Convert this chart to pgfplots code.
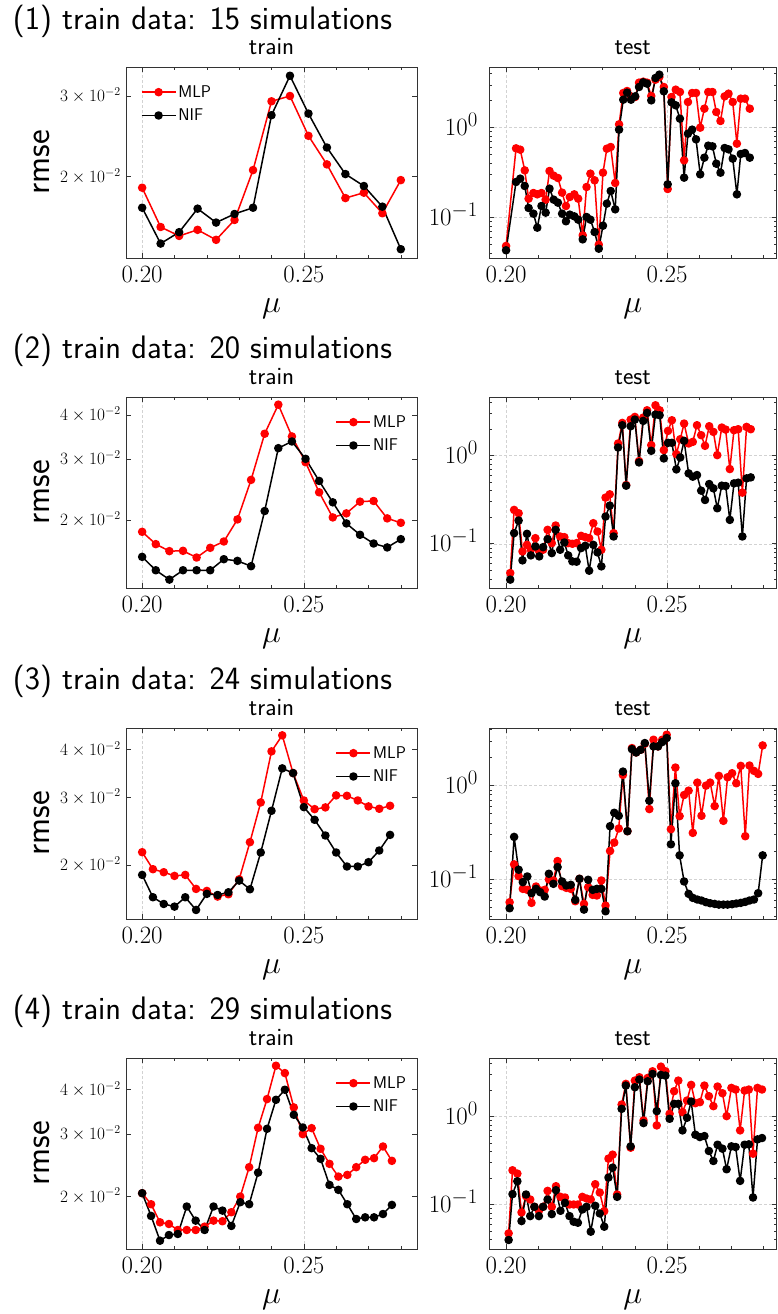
\RequirePackage{fix-cm}
\documentclass[border=0pt]{standalone}
\usepackage{pgfplots}
\usepackage{pgfplotstable}
\pgfplotsset{compat=1.18}

\newcommand{\fs}[1]{\fontsize{#1}{#1}\selectfont}

\pgfplotstableread{
x mlp nif
0.20000 0.01893 0.01712
0.20571 0.01554 0.01430
0.21143 0.01486 0.01514
0.21714 0.01532 0.01704
0.22286 0.01457 0.01589
0.22857 0.01610 0.01659
0.23429 0.02068 0.01712
0.24000 0.02921 0.02724
0.24571 0.03000 0.03321
0.25143 0.02456 0.02746
0.25714 0.02128 0.02316
0.26286 0.01797 0.02027
0.26857 0.01846 0.01909
0.27429 0.01665 0.01721
0.28000 0.01967 0.01390
}\trainA

\pgfplotstableread{
x mlp nif
0.20000 0.01851 0.01568
0.20421 0.01706 0.01435
0.20842 0.01629 0.01349
0.21263 0.01632 0.01435
0.21684 0.01561 0.01435
0.22105 0.01665 0.01435
0.22526 0.01736 0.01544
0.22947 0.02009 0.01527
0.23368 0.02610 0.01474
0.23789 0.03543 0.02124
0.24211 0.04295 0.03220
0.24632 0.03480 0.03366
0.25053 0.02934 0.03000
0.25474 0.02404 0.02592
0.25895 0.02036 0.02250
0.26316 0.02091 0.01957
0.26737 0.02260 0.01815
0.27158 0.02270 0.01713
0.27579 0.02023 0.01669
0.28000 0.01965 0.01763
}\trainB

\pgfplotstableread{
x mlp nif
0.20000 0.02160 0.01884
0.20333 0.01950 0.01647
0.20667 0.01915 0.01582
0.21000 0.01873 0.01557
0.21333 0.01884 0.01647
0.21667 0.01732 0.01526
0.22000 0.01711 0.01681
0.22333 0.01654 0.01670
0.22667 0.01677 0.01697
0.23000 0.01835 0.01821
0.23333 0.02294 0.01728
0.23667 0.02914 0.02156
0.24000 0.03963 0.02771
0.24333 0.04363 0.03577
0.24667 0.03477 0.03477
0.25000 0.02949 0.02833
0.25333 0.02799 0.02625
0.25667 0.02828 0.02388
0.26000 0.03040 0.02156
0.26333 0.03033 0.01982
0.26667 0.02949 0.01982
0.27000 0.02845 0.02034
0.27333 0.02805 0.02182
0.27667 0.02856 0.02397
}\trainC

\pgfplotstableread{
x mlp nif
0.20000 0.02045 0.02045
0.20276 0.01904 0.01765
0.20552 0.01693 0.01503
0.20828 0.01675 0.01559
0.21103 0.01611 0.01570
0.21379 0.01611 0.01876
0.21655 0.01611 0.01712
0.21931 0.01646 0.01611
0.22207 0.01712 0.01876
0.22483 0.01705 0.01827
0.22759 0.01808 0.01654
0.23034 0.02001 0.01929
0.23310 0.02421 0.01904
0.23586 0.03126 0.02338
0.23862 0.03766 0.03106
0.24138 0.04676 0.03749
0.24414 0.04458 0.04002
0.24690 0.03568 0.03402
0.24966 0.03000 0.03133
0.25241 0.03119 0.02739
0.25517 0.02728 0.02556
0.25793 0.02474 0.02158
0.26069 0.02278 0.02090
0.26345 0.02303 0.01904
0.26621 0.02421 0.01730
0.26897 0.02540 0.01749
0.27172 0.02567 0.01749
0.27448 0.02769 0.01787
0.27724 0.02523 0.01896
}\trainD

\pgfplotstableread{
x mlp nif
0.2000 0.0479 0.0429
0.2031 0.588 0.248
0.2044 0.568 0.270
0.2058 0.334 0.2236
0.2070 0.1615 0.1271
0.2085 0.1868 0.1099
0.2097 0.1805 0.0767
0.2110 0.1868 0.1338
0.2123 0.1574 0.1127
0.2135 0.3287 0.2088
0.2148 0.2915 0.1574
0.2161 0.2746 0.1458
0.2174 0.1884 0.1099
0.2186 0.1338 0.0903
0.2198 0.1686 0.1071
0.2212 0.1805 0.1026
0.2224 0.1615 0.0942
0.2238 0.0630 0.0568
0.2250 0.2179 0.1009
0.2262 0.3069 0.0942
0.2275 0.2586 0.0686
0.2288 0.0496 0.0447
0.2301 0.3148 0.0807
0.2313 0.583 0.1421
0.2325 0.609 0.1966
0.2339 0.2415 0.1228
0.2351 1.089 0.950
0.2364 2.436 2.052
0.2376 2.564 2.457
0.2388 2.236 2.052
0.2401 2.198 2.236
0.2413 3.177 2.841
0.2426 3.258 3.204
0.2438 3.177 3.095
0.2451 2.255 2.017
0.2464 3.430 3.580
0.2476 3.674 3.900
0.2490 2.841 2.542
0.2502 0.2070 0.2333
0.2514 2.198 1.916
0.2527 2.653 1.775
0.2540 2.499 1.260
0.2553 0.432 0.2770
0.2565 1.933 0.857
0.2578 2.436 0.950
0.2590 2.436 0.741
0.2603 1.000 0.3017
0.2616 1.629 0.4628
0.2628 2.499 0.630
0.2641 2.499 0.619
0.2653 1.495 0.3967
0.2666 1.187 0.3148
0.2679 2.236 0.5932
0.2691 2.394 0.5733
0.2704 1.933 0.4511
0.2717 0.6631 0.1805
0.2729 2.106 0.5085
0.2742 2.106 0.5219
0.2757 1.629 0.4628
}\testA

\pgfplotstableread{
x mlp nif
0.2013 0.0467 0.0393
0.2025 0.2418 0.1319
0.2039 0.2218 0.1834
0.2051 0.0819 0.0649
0.2065 0.0974 0.1297
0.2077 0.0856 0.0739
0.2091 0.1158 0.0933
0.2103 0.0819 0.0720
0.2115 0.0856 0.0917
0.2129 0.1439 0.1129
0.2142 0.1017 0.0785
0.2154 0.1610 0.1439
0.2168 0.1210 0.0856
0.2181 0.1189 0.1035
0.2193 0.1017 0.0739
0.2206 0.1000 0.0632
0.2219 0.1017 0.0627
0.2233 0.1231 0.0894
0.2246 0.1189 0.0949
0.2258 0.1158 0.0496
0.2271 0.1711 0.0974
0.2284 0.1377 0.0799
0.2296 0.0856 0.0555
0.2309 0.3332 0.2034
0.2322 0.3633 0.2706
0.2334 0.1319 0.1210
0.2348 1.366 1.231
0.2361 2.336 2.198
0.2373 0.4628 0.455
0.2387 2.547 2.142
0.2400 2.730 2.547
0.2413 0.863 0.834
0.2426 2.683 2.460
0.2438 3.245 3.029
0.2451 1.308 1.129
0.2464 3.696 2.900
0.2477 3.245 2.851
0.2490 1.149 0.925
0.2503 1.897 1.390
0.2515 2.503 1.390
0.2529 1.035 0.695
0.2541 1.528 0.949
0.2553 2.296 1.464
0.2567 1.366 0.627
0.2580 1.426 0.5745
0.2593 2.198 0.600
0.2606 1.696 0.3995
0.2618 1.285 0.3134
0.2631 2.142 0.475
0.2644 1.849 0.4244
0.2656 1.009 0.2525
0.2670 2.070 0.455
0.2682 1.964 0.451
0.2695 0.7013 0.1865
0.2708 1.931 0.4832
0.2721 1.982 0.4917
0.2734 0.3793 0.1210
0.2747 2.105 0.5503
0.2760 1.982 0.5647
}\testB

\pgfplotstableread{
x mlp nif
0.2011 0.0566 0.0488
0.2025 0.1438 0.2829
0.2039 0.1077 0.1260
0.2052 0.0787 0.0928
0.2066 0.0768 0.1068
0.2079 0.0557 0.0707
0.2093 0.0834 0.0787
0.2106 0.0755 0.0725
0.2120 0.0768 0.0651
0.2133 0.0992 0.1141
0.2147 0.0968 0.0891
0.2160 0.1561 0.1346
0.2174 0.0841 0.0944
0.2187 0.0807 0.0855
0.2201 0.0787 0.0869
0.2215 0.0580 0.0600
0.2228 0.1008 0.1008
0.2242 0.0543 0.0472
0.2255 0.0820 0.0984
0.2269 0.0679 0.0768
0.2282 0.0668 0.0787
0.2296 0.0968 0.0787
0.2309 0.0521 0.0453
0.2323 0.2000 0.3684
0.2336 0.2459 0.5126
0.2350 0.3477 0.4759
0.2363 1.302 1.414
0.2377 0.3255 0.3255
0.2391 2.520 2.459
0.2404 2.264 2.264
0.2418 2.418 2.418
0.2431 2.805 2.853
0.2445 0.5612 0.6898
0.2458 3.097 2.627
0.2472 2.627 2.627
0.2485 3.097 2.924
0.2499 3.506 3.228
0.2512 0.3420 0.2359
0.2526 1.561 1.060
0.2539 0.4719 0.1797
0.2553 0.7937 0.0944
0.2567 0.8836 0.0696
0.2580 0.3123 0.0630
0.2594 1.077 0.0605
0.2607 0.4759 0.0590
0.2621 1.000 0.0566
0.2634 1.077 0.0552
0.2648 0.6045 0.0543
0.2661 1.270 0.0534
0.2675 0.4204 0.0534
0.2688 1.229 0.0534
0.2702 1.357 0.0539
0.2715 1.060 0.0548
0.2729 1.627 0.0557
0.2743 0.2876 0.0571
0.2756 1.641 0.0590
0.2770 1.438 0.0605
0.2783 1.335 0.0707
0.2797 2.692 0.1797
}\testC

\pgfplotstableread{
x mlp nif
0.2008 0.0470 0.0395
0.2020 0.2447 0.1309
0.2035 0.2244 0.1837
0.2048 0.0812 0.0648
0.2062 0.1243 0.1298
0.2075 0.1139 0.0738
0.2088 0.0941 0.0941
0.2102 0.0848 0.0738
0.2115 0.0941 0.0941
0.2129 0.1428 0.1139
0.2142 0.0941 0.0777
0.2155 0.1613 0.1453
0.2169 0.1221 0.0848
0.2183 0.1200 0.1044
0.2197 0.1000 0.0738
0.2210 0.1000 0.0637
0.2223 0.1000 0.0620
0.2237 0.1221 0.0878
0.2250 0.1169 0.0941
0.2263 0.1139 0.0491
0.2277 0.1699 0.0966
0.2291 0.1367 0.0791
0.2305 0.0840 0.0559
0.2318 0.3318 0.2022
0.2331 0.3681 0.2624
0.2345 0.1298 0.1221
0.2359 1.367 1.221
0.2372 2.343 2.244
0.2387 0.4418 0.4575
0.2400 2.556 2.148
0.2414 2.788 2.624
0.2427 0.9010 0.8405
0.2440 2.740 2.512
0.2455 3.260 3.041
0.2468 0.7910 1.149
0.2481 3.681 2.963
0.2495 3.260 2.912
0.2508 1.072 0.9410
0.2522 1.936 1.391
0.2535 2.556 1.391
0.2548 1.120 0.6944
0.2562 1.517 0.9658
0.2575 2.283 1.479
0.2588 1.415 0.6200
0.2602 1.453 0.5834
0.2616 2.244 0.5990
0.2630 1.699 0.4051
0.2644 1.309 0.3120
0.2657 2.186 0.4777
0.2672 1.837 0.4305
0.2685 1.009 0.2512
0.2700 2.111 0.4575
0.2713 2.022 0.4497
0.2727 0.6944 0.1853
0.2741 1.969 0.4777
0.2754 2.022 0.4819
0.2767 0.3779 0.1200
0.2781 2.111 0.5490
0.2795 2.022 0.5686
}\testD

% #1 = legend placement, #2 = axis placement and limits
\newcommand{\trainaxis}[2]{%
\begin{axis}[
    scale only axis, height=191pt, width=291pt, ymode=log,
    xmin=0.195, xmax=0.285,
    tick align=inside,
    major tick length=5pt, minor tick length=3pt,
    axis line style={black!80, line width=0.8pt},
    every tick/.append style={black!80, line width=0.6pt},
    xtick={0.20,0.25}, xticklabels={$0.20$,$0.25$},
    minor xtick={0.21,0.22,0.23,0.24,0.26,0.27,0.28},
    xmajorgrids,
    major grid style={gray!35, dash pattern=on 3pt off 2pt, line width=0.5pt},
    xticklabel style={font=\fs{24.88}, inner sep=0pt, anchor=north, yshift=-8pt},
    title={train},
    title style={font=\sffamily\fs{24.88}, inner sep=0pt, at={(axis description cs:0.5,1)}, anchor=base, yshift=6.5pt},
    xlabel={$\mu$},
    xlabel style={font=\fs{32}, inner sep=0pt, at={(axis description cs:0.5,-0.285)}, anchor=base},
    ytick={0.02,0.03,0.04}, yticklabels={$2\times10^{-2}$,$3\times10^{-2}$,$4\times10^{-2}$},
    yticklabel style={font=\fs{17.28}, inner sep=0pt, anchor=base east, xshift=-5pt, yshift=-5.6pt},
    ylabel={rmse},
    ylabel style={font=\sffamily\fs{35}, inner sep=0pt, at={(axis description cs:-0.262,0.5)}, anchor=base},
    legend cell align=left,
    legend image code/.code={\draw[mark repeat=2,mark phase=2,##1] plot coordinates {(0pt,0pt) (17pt,0pt) (34pt,0pt)};},
    legend style={draw=none, fill=none, font=\sffamily\fs{17}, row sep=6pt},
    #1, #2]}

\newcommand{\testaxis}[1]{%
\begin{axis}[
    scale only axis, height=191pt, width=287.5pt, ymode=log,
    xmin=0.1947, xmax=0.2840,
    tick align=inside,
    major tick length=5pt, minor tick length=3pt,
    axis line style={black!80, line width=0.8pt},
    every tick/.append style={black!80, line width=0.6pt},
    xtick={0.20,0.25}, xticklabels={$0.20$,$0.25$},
    minor xtick={0.21,0.22,0.23,0.24,0.26,0.27,0.28},
    xmajorgrids, ymajorgrids,
    major grid style={gray!35, dash pattern=on 3pt off 2pt, line width=0.5pt},
    xticklabel style={font=\fs{24.88}, inner sep=0pt, anchor=north, yshift=-8pt},
    title={test},
    title style={font=\sffamily\fs{24.88}, inner sep=0pt, at={(axis description cs:0.5,1)}, anchor=base, yshift=6.5pt},
    xlabel={$\mu$},
    xlabel style={font=\fs{32}, inner sep=0pt, at={(axis description cs:0.5,-0.285)}, anchor=base},
    ytick={0.1,1}, yticklabels={$10^{-1}$,$10^{0}$},
    minor ytick={0.02,0.03,0.04,0.05,0.06,0.07,0.08,0.09,0.2,0.3,0.4,0.5,0.6,0.7,0.8,0.9,2,3,4,5,6,7,8,9},
    yticklabel style={font=\fs{24.88}, inner sep=0pt, anchor=base east, xshift=-11pt, yshift=-8pt},
    #1]}

\begin{document}
\begin{tikzpicture}
\path[use as bounding box] (0pt,0pt) rectangle (777pt,1314pt);

\node[anchor=base west, font=\sffamily\fs{32.5}, inner sep=0pt] at (12.7pt,1284pt) {(1) train data: 15 simulations};
\node[anchor=base west, font=\sffamily\fs{32.5}, inner sep=0pt] at (12.7pt,955pt) {(2) train data: 20 simulations};
\node[anchor=base west, font=\sffamily\fs{32.5}, inner sep=0pt] at (12.7pt,624pt) {(3) train data: 24 simulations};
\node[anchor=base west, font=\sffamily\fs{32.5}, inner sep=0pt] at (12.7pt,294pt) {(4) train data: 29 simulations};

% Row 1
\trainaxis{legend style={at={(axis description cs:0.04,0.925)}, anchor=north west}}{at={(126pt,1056pt)}, anchor=south west, ymin=0.0133, ymax=0.0347}
\addplot[red, line width=1.5pt, line join=round, mark=*, mark size=3.5pt, mark options={fill=red}] table[x=x, y=mlp] {\trainA};
\addlegendentry{MLP}
\addplot[black, line width=1.5pt, line join=round, mark=*, mark size=3.5pt, mark options={fill=black}] table[x=x, y=nif] {\trainA};
\addlegendentry{NIF}
\end{axis}
\testaxis{at={(489pt,1056pt)}, anchor=south west, ymin=0.0352, ymax=4.75}
\addplot[red, line width=1.5pt, line join=round, mark=*, mark size=3.5pt, mark options={fill=red}] table[x=x, y=mlp] {\testA};
\addplot[black, line width=1.5pt, line join=round, mark=*, mark size=3.5pt, mark options={fill=black}] table[x=x, y=nif] {\testA};
\end{axis}

% Row 2
\trainaxis{legend style={at={(axis description cs:0.98,0.925)}, anchor=north east}}{at={(126pt,726pt)}, anchor=south west, ymin=0.01276, ymax=0.04518}
\addplot[red, line width=1.5pt, line join=round, mark=*, mark size=3.5pt, mark options={fill=red}] table[x=x, y=mlp] {\trainB};
\addlegendentry{MLP}
\addplot[black, line width=1.5pt, line join=round, mark=*, mark size=3.5pt, mark options={fill=black}] table[x=x, y=nif] {\trainB};
\addlegendentry{NIF}
\end{axis}
\testaxis{at={(489pt,726pt)}, anchor=south west, ymin=0.0316, ymax=4.59}
\addplot[red, line width=1.5pt, line join=round, mark=*, mark size=3.5pt, mark options={fill=red}] table[x=x, y=mlp] {\testB};
\addplot[black, line width=1.5pt, line join=round, mark=*, mark size=3.5pt, mark options={fill=black}] table[x=x, y=nif] {\testB};
\end{axis}

% Row 3
\trainaxis{legend style={at={(axis description cs:0.98,0.925)}, anchor=north east}}{at={(126pt,395pt)}, anchor=south west, ymin=0.01445, ymax=0.0456}
\addplot[red, line width=1.5pt, line join=round, mark=*, mark size=3.5pt, mark options={fill=red}] table[x=x, y=mlp] {\trainC};
\addlegendentry{MLP}
\addplot[black, line width=1.5pt, line join=round, mark=*, mark size=3.5pt, mark options={fill=black}] table[x=x, y=nif] {\trainC};
\addlegendentry{NIF}
\end{axis}
\testaxis{at={(489pt,395pt)}, anchor=south west, ymin=0.03746, ymax=4.136}
\addplot[red, line width=1.5pt, line join=round, mark=*, mark size=3.5pt, mark options={fill=red}] table[x=x, y=mlp] {\testC};
\addplot[black, line width=1.5pt, line join=round, mark=*, mark size=3.5pt, mark options={fill=black}] table[x=x, y=nif] {\testC};
\end{axis}

% Row 4
\trainaxis{legend style={at={(axis description cs:0.98,0.925)}, anchor=north east}}{at={(126pt,65pt)}, anchor=south west, ymin=0.01424, ymax=0.04916}
\addplot[red, line width=1.5pt, line join=round, mark=*, mark size=3.5pt, mark options={fill=red}] table[x=x, y=mlp] {\trainD};
\addlegendentry{MLP}
\addplot[black, line width=1.5pt, line join=round, mark=*, mark size=3.5pt, mark options={fill=black}] table[x=x, y=nif] {\trainD};
\addlegendentry{NIF}
\end{axis}
\testaxis{at={(489pt,65pt)}, anchor=south west, ymin=0.0312, ymax=4.615}
\addplot[red, line width=1.5pt, line join=round, mark=*, mark size=3.5pt, mark options={fill=red}] table[x=x, y=mlp] {\testD};
\addplot[black, line width=1.5pt, line join=round, mark=*, mark size=3.5pt, mark options={fill=black}] table[x=x, y=nif] {\testD};
\end{axis}
\end{tikzpicture}
\end{document}
